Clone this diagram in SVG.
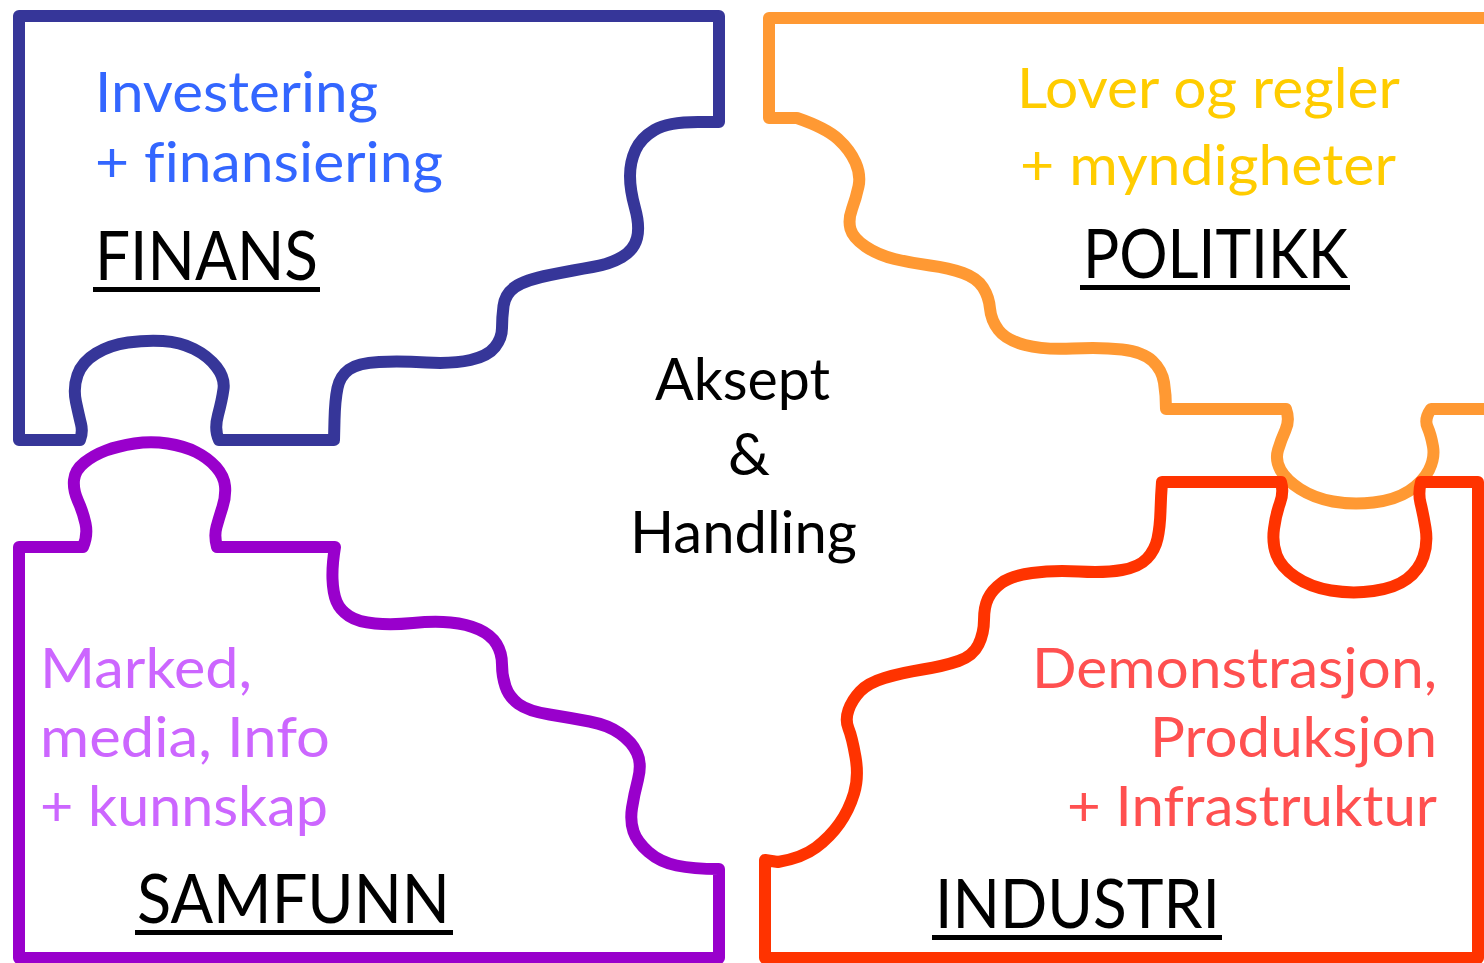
<svg xmlns="http://www.w3.org/2000/svg" width="1484" height="963" viewBox="0 0 1484 963">
<style>
.piece{fill:none;stroke-width:12;stroke-linejoin:round;stroke-linecap:round}
.t{font-family:Lato,"Open Sans","Liberation Sans",sans-serif;font-variant-ligatures:none;font-feature-settings:"liga" 0}
.d{font-size:56px}
.lbl{font-size:67px;fill:#000}
.c{font-size:59px;fill:#000}
.ul{fill:#000}
</style>
<rect width="1484" height="963" fill="#fff"/>
<g id="finans">
<path class="piece" stroke="#363699" d="M19,16 L719,16 L719,122 L698,122 Q668,122 654.5,130 Q641,138 635.5,150 Q630,162 630,176 Q630,190 635,208 Q640,226 637,238 Q634,250 622,257 Q610,264 592.5,267 Q575,270 550,275 Q525,280 515,287 Q505,294 503.5,306 Q502,318 502,328 Q502,338 495,347 Q488,356 470.5,360 Q453,364 426.5,362.5 Q400,361 379,362 Q358,363 349,369.5 Q340,376 337.5,388 Q335,400 334.5,420 L334,440 L219,440 Q214,430 218,415 Q222,400 223.5,389 Q225,378 216.5,367 Q208,356 194,349 Q180,342 163,341 Q146,340 128,342.5 Q110,345 96,353.5 Q82,362 77.5,375 Q73,388 76,402 Q79,416 81,424 Q83,432 80,440 L19,440 Z"/>
<text class="t d" fill="#3366FF" x="95" y="112" textLength="283" lengthAdjust="spacingAndGlyphs">Investering</text>
<text class="t d" fill="#3366FF" x="95" y="182" textLength="348" lengthAdjust="spacingAndGlyphs">+ finansiering</text>
<text class="t lbl" x="95" y="280" textLength="223" lengthAdjust="spacingAndGlyphs">FINANS</text>
<rect class="ul" x="93" y="287" width="227" height="5"/>
</g>
<g id="samfunn">
<path class="piece" stroke="#9900CC" d="M19,547 L83,547 Q88,535 85.5,523.5 Q83,512 78,501 Q73,490 74,480 Q75,470 84.5,462.5 Q94,455 106,450.5 Q118,446 134.5,443.5 Q151,441 167.5,443.5 Q184,446 196,452 Q208,458 216,467 Q224,476 225,486 Q226,496 222.5,507 Q219,518 216.5,527 Q214,536 217,547 L335,547 Q332,565 332.5,579 Q333,593 336.5,601.5 Q340,610 349,616 Q358,622 375,623.5 Q392,625 413,623 Q434,621 450.5,622.5 Q467,624 479,629.5 Q491,635 496.5,644 Q502,653 502,664.5 Q502,676 505.5,686.5 Q509,697 518.5,704 Q528,711 549.5,714.5 Q571,718 589.5,721.5 Q608,725 620,733.5 Q632,742 637,753 Q642,764 638,779.5 Q634,795 632,808 Q630,821 633.5,831.5 Q637,842 648.5,852 Q660,862 676.5,865.5 Q693,869 719,869 L719,958 L19,958 Z"/>
<text class="t d" fill="#CC66FF" x="40" y="688" textLength="212" lengthAdjust="spacingAndGlyphs">Marked,</text>
<text class="t d" fill="#CC66FF" x="40" y="757" textLength="290" lengthAdjust="spacingAndGlyphs">media, Info</text>
<text class="t d" fill="#CC66FF" x="40" y="826" textLength="288" lengthAdjust="spacingAndGlyphs">+ kunnskap</text>
<text class="t lbl" x="137" y="923" textLength="313" lengthAdjust="spacingAndGlyphs">SAMFUNN</text>
<rect class="ul" x="135" y="930" width="318" height="5"/>
</g>
<g id="politikk">
<path class="piece" stroke="#FF9933" d="M1500,18 L769,18 L769,118 L797,118 Q826,128 838,139 Q850,150 855.5,162.5 Q861,175 858.5,186.5 Q856,198 852,209 Q848,220 850.5,229 Q853,238 865.5,246.5 Q878,255 894.5,259 Q911,263 930,265.5 Q949,268 963,273 Q977,278 983,287.5 Q989,297 990,308.5 Q991,320 998.5,330 Q1006,340 1025,345 Q1044,350 1072.5,348.5 Q1101,347 1122,349.5 Q1143,352 1152.5,361 Q1162,370 1164,382.5 Q1166,395 1166,409 L1286,409 Q1290,420 1285.5,430 Q1281,440 1278,450 Q1275,460 1280.5,470 Q1286,480 1300,489 Q1314,498 1333,501.5 Q1352,505 1373.5,502.5 Q1395,500 1409,491 Q1423,482 1429,470 Q1435,458 1433,446.5 Q1431,435 1427.5,427 Q1424,419 1431,409 L1500,409 Z"/>
<text class="t d" fill="#FFCC00" x="1017" y="108" textLength="383" lengthAdjust="spacingAndGlyphs">Lover og regler</text>
<text class="t d" fill="#FFCC00" x="1020" y="185" textLength="376" lengthAdjust="spacingAndGlyphs">+ myndigheter</text>
<text class="t lbl" x="1083" y="278" textLength="265" lengthAdjust="spacingAndGlyphs">POLITIKK</text>
<rect class="ul" x="1080" y="285" width="270" height="5"/>
</g>
<g id="industri">
<path class="piece" stroke="#FF3300" d="M1162,482 L1281,482 Q1284,492 1280,503 Q1276,514 1274,528.5 Q1272,543 1276.5,555 Q1281,567 1295.5,577 Q1310,587 1331,590.5 Q1352,594 1373.5,591 Q1395,588 1407,579 Q1419,570 1423.5,556.5 Q1428,543 1425.5,528 Q1423,513 1420.5,503 Q1418,493 1421,482 L1478,482 L1478,958 L765,958 L765,860 L778,862 Q802,858 816,847.5 Q830,837 839.5,823.5 Q849,810 854,793.5 Q859,777 855.5,757 Q852,737 848.5,728.5 Q845,720 848.5,710 Q852,700 860,691.5 Q868,683 884.5,678 Q901,673 922.5,669.5 Q944,666 958.5,661 Q973,656 978.5,644.5 Q984,633 984,620 Q984,607 988,598.5 Q992,590 1001.5,583 Q1011,576 1032,573 Q1053,570 1079,571.5 Q1105,573 1122,570 Q1139,567 1147,558.5 Q1155,550 1157.5,538.5 Q1160,527 1160.5,511 Q1161,495 1162,482 Z"/>
<text class="t d" fill="#FF5050" x="1032" y="688" textLength="405" lengthAdjust="spacingAndGlyphs">Demonstrasjon,</text>
<text class="t d" fill="#FF5050" x="1150" y="757" textLength="287" lengthAdjust="spacingAndGlyphs">Produksjon</text>
<text class="t d" fill="#FF5050" x="1067" y="826" textLength="370" lengthAdjust="spacingAndGlyphs">+ Infrastruktur</text>
<text class="t lbl" x="935" y="928" textLength="285" lengthAdjust="spacingAndGlyphs">INDUSTRI</text>
<rect class="ul" x="932" y="935" width="290" height="5"/>
</g>
<g id="center">
<text class="t c" x="655" y="400" textLength="175" lengthAdjust="spacingAndGlyphs">Aksept</text>
<text class="t c" x="749" y="475" text-anchor="middle">&amp;</text>
<text class="t c" x="630" y="553" textLength="227" lengthAdjust="spacingAndGlyphs">Handling</text>
</g>
</svg>
